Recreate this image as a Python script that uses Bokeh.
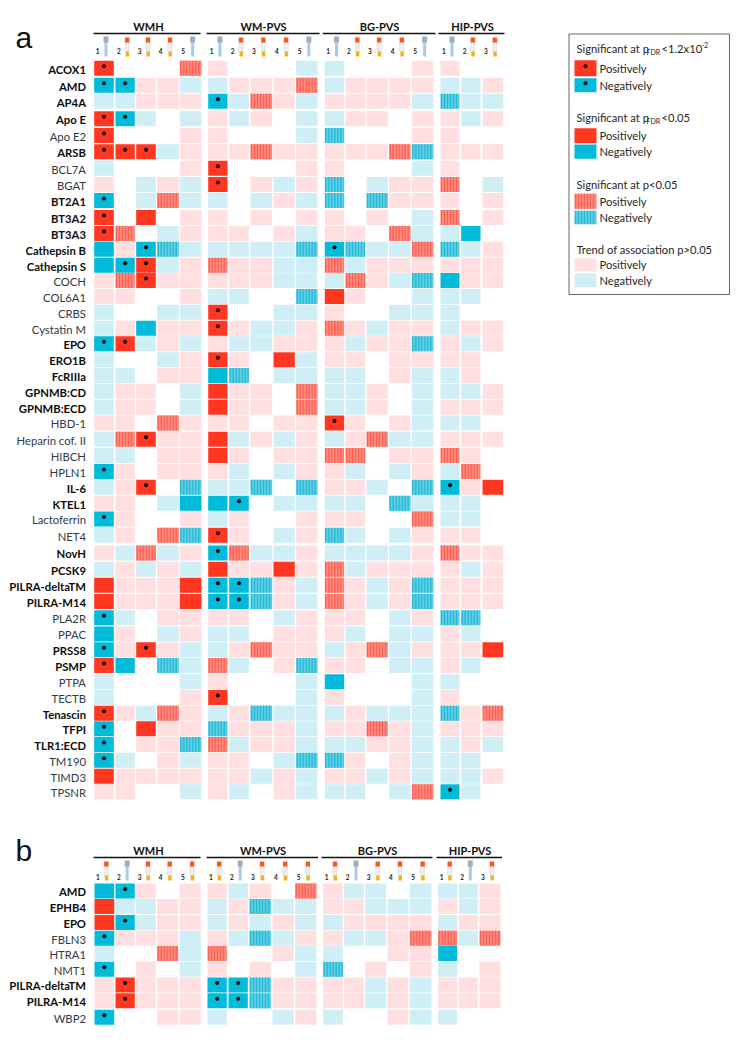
from bokeh.plotting import figure
from bokeh.models import ColumnDataSource
from bokeh.embed import file_html
from bokeh.resources import INLINE
from bokeh.core.properties import value

# ---------- data ----------
GROUPS = ["WMH", "WM-PVS", "BG-PVS", "HIP-PVS"]
GROUP_SIZES = [5, 5, 5, 3]

# R/B = starred positive/negative, r/b = solid, h/k = hatched, p/c = trend, . = none
LABELS_A = ["ACOX1", "AMD", "AP4A", "Apo E", "Apo E2", "ARSB", "BCL7A", "BGAT", "BT2A1", "BT3A2", "BT3A3",
            "Cathepsin B", "Cathepsin S", "COCH", "COL6A1", "CRBS", "Cystatin M", "EPO", "ERO1B", "FcRIIIa",
            "GPNMB:CD", "GPNMB:ECD", "HBD-1", "Heparin cof. II", "HIBCH", "HPLN1", "IL-6", "KTEL1", "Lactoferrin",
            "NET4", "NovH", "PCSK9", "PILRA-deltaTM", "PILRA-M14", "PLA2R", "PPAC", "PRSS8", "PSMP", "PTPA",
            "TECTB", "Tenascin", "TFPI", "TLR1:ECD", "TM190", "TIMD3", "TPSNR"]
BOLD_A = {"ACOX1", "AMD", "AP4A", "Apo E", "ARSB", "BT2A1", "BT3A2", "BT3A3", "Cathepsin B", "Cathepsin S",
          "EPO", "ERO1B", "FcRIIIa", "GPNMB:CD", "GPNMB:ECD", "IL-6", "KTEL1", "NovH", "PCSK9", "PILRA-deltaTM",
          "PILRA-M14", "PRSS8", "PSMP", "Tenascin", "TFPI", "TLR1:ECD"}
CELLS_A = [
    "R...h p...c c...p p..",
    "BBppc cppph cpppp ccp",
    "ccppp Bchpc ppppc kcc",
    "RBc.c pcp.c cpp.p pcp",
    "R...p p...c k...p p..",
    "RRRcp pphpp ppphk ppp",
    "c...p R...p p...c p..",
    "p.cpc R.pcp k.cpp h.c",
    "B.chc c.cpc k.kpp p.p",
    "R.r.p p.p.p p.p.c h.p",
    "Rh.cp pp.pc pp.hc cb.",
    "bpBkc cccck Bkcch kcp",
    "bBRcp hppcc hcppp ppp",
    "phRpp pppcc chpck bpp",
    "pp..p cc..k rp..c cc.",
    "c..cc R..cc p..cc c..",
    "cpbpp Rpccp hpcpp cpp",
    "BRcpc pccpp pcppk pcp",
    "c..cp Rp.rc pp.pp pp.",
    "cc.pp bk.cc cc.pc cp.",
    "cpp.c rpp.h ccp.c ccp",
    "cpp.c rpp.h ccp.c ppp",
    "pp.hp pp.pp Rp.pc cc.",
    "chRpp rcpcp cphcc ppp",
    "cc.pp rp.pp hh.pp hp.",
    "Bp.pp pc.cp pc.cp ch.",
    "cpR.k cck.k ppc.k Bpr",
    "pp.cb bB.cc cc.kc cc.",
    "Bp..p cp..p pp..h cc.",
    "cp.hk Rp.cp kc.cp pp.",
    "pchcp Bhccp ccccp hpp",
    "cpcpc rpprp hcppp pcp",
    "rpppr BBkpc hpcpk ppp",
    "rpppr BBkpc hpcpk ppp",
    "Bc.pp pp.cp pp.cp kk.",
    "bp.cp cc.pp pc.cc pc.",
    "BpRpc cphpp cphcp ppr",
    "Rb.kc hc.pk pp.cc pc.",
    "c...c p...c b...c c..",
    "c...p R...c p...c p..",
    "Rpchp cpkcc cpccc kph",
    "B.rpp kpppc pphpc ppp",
    "B.ppk hcppc ccppc cpc",
    "Bc.pc pp.ck kp.pc cc.",
    "rpppp ppcpc ppcpc ccp",
    "pp..c pc.pc cc.ch Bc.",
]
TUBES_A = ["booob", "booob", "booob", "boo"]

LABELS_B = ["AMD", "EPHB4", "EPO", "FBLN3", "HTRA1", "NMT1", "PILRA-deltaTM", "PILRA-M14", "WBP2"]
BOLD_B = {"AMD", "EPHB4", "EPO", "PILRA-deltaTM", "PILRA-M14"}
CELLS_B = [
    "bBp.p pcp.h pcc.c ccp",
    "rccpp cpkcc ppccc pcp",
    "rBcpp cpcpc cpppp cpp",
    "Bpppc pckcp pccph hch",
    "c..hc h..pc c..pp b..",
    "B.p.c p.p.c k.p.p c.p",
    "pRppp BBkpp ppcpc ppp",
    "pRppp BBkpp ppcpc ppp",
    "B..pp c..cp c..pc c..",
]
TUBES_B = ["obooo", "obooo", "obooo", "obo"]

LEGEND_ROWS = ["Positively", "Negatively"]

# ---------- layout (reference pixels) ----------
LEFT_A = [93.7, 115, 135.7, 156.7, 179.3, 207.7, 228.7, 250, 273, 295.7, 324.3, 345, 366, 388.7, 411.3, 440, 460.7, 482]
RIGHT_A = [113.3, 134.3, 155.3, 178.3, 201, 227, 248.3, 271.7, 294.3, 317, 343.7, 364.7, 387.3, 410, 433, 459, 480, 502.7]
YC_A = [67.7, 84.7, 100.7, 118.3, 135, 151.3, 167.7, 184, 200, 217, 233, 248.7, 264.7, 280, 296, 311.8, 327.7, 343.3,
        359.3, 375, 390.8, 406.7, 422.5, 438.7, 455, 471, 486.8, 502.8, 518.5, 534.8, 552.5, 568.7, 584.7, 601,
        617.3, 633.5, 649.3, 665, 681.3, 697, 712.7, 728.3, 744, 759.8, 775.7, 791.3]
LEFT_B = [94, 115, 135.7, 156.7, 179, 207, 228, 249, 272, 294.7, 322.7, 343.7, 364.7, 387, 409.3, 437.7, 458.3, 479]
RIGHT_B = [113.7, 134.3, 155.3, 177.7, 200.3, 226.3, 247.3, 270.3, 293.3, 316, 342.3, 363.3, 385.7, 408, 431, 456.7, 477.3, 500]
YC_B = [890.5, 906, 922, 937.7, 953, 968.8, 984.5, 1000.3, 1016.7]
CELL_H = 15

COLORS = {"R": "#ff3620", "r": "#ff3620", "B": "#00bbd9", "b": "#00bbd9",
          "h": "#ff7a6e", "k": "#47c6df", "p": "#ffdfdf", "c": "#cfeef5"}
STRIPE = {"h": ("#ff5c4e", "#ff9389"), "k": ("#1fb9d6", "#6dd2e6")}

FONT = "Lato"
W, H = 735, 1034
p = figure(width=W, height=H, x_range=(0, W), y_range=(H, 0),
           x_axis_location=None, y_axis_location=None, toolbar_location=None,
           output_backend="svg", min_border=0, outline_line_color=None)
p.grid.visible = False
p.background_fill_color = "white"


def put_text(x, y, s, size, color="#333333", bold=False, align="left", font=FONT):
    p.text([x], [y], text=[s], text_font=value(font), text_font_size=f"{size}px", text_color=color,
           text_align=align, text_baseline="middle", text_font_style="bold" if bold else "normal")


def draw_cells(left, right, y0, y1, codes):
    src = ColumnDataSource(dict(left=left, right=right, top=y0, bottom=y1, color=[COLORS[c] for c in codes]))
    p.quad(left="left", right="right", top="top", bottom="bottom", fill_color="color", line_color=None, source=src)
    for kind in "hk":
        for phase, col in enumerate(STRIPE[kind]):
            xs0, ys0, ys1 = [], [], []
            for l, r, t, b, c in zip(left, right, y0, y1, codes):
                if c == kind:
                    x = l + 1 + phase * 1.5
                    while x < r - 0.5:
                        xs0.append(x)
                        ys0.append(t)
                        ys1.append(b)
                        x += 3
            if xs0:
                p.segment(x0=xs0, x1=xs0, y0=ys0, y1=ys1, line_color=col, line_width=0.9)
    stars_x = [(l + r) / 2 for l, r, c in zip(left, right, codes) if c in "RB"]
    stars_y = [(t + b) / 2 - 2 for t, b, c in zip(y0, y1, codes) if c in "RB"]
    if stars_x:
        p.scatter(stars_x, stars_y, size=4, color="black", line_color=None)


def draw_panel(labels, bold, cells, left, right, yc):
    lf, rt, t, b, codes = [], [], [], [], []
    for label, row, y in zip(labels, cells, yc):
        row = row.replace(" ", "")
        put_text(85.5, y + 0.8, label, 11.3, "#0d0d0d" if label in bold else "#2f3a45",
                 bold=label in bold, align="right")
        for j, c in enumerate(row):
            if c != ".":
                lf.append(left[j]); rt.append(right[j])
                t.append(y - CELL_H / 2); b.append(y + CELL_H / 2)
                codes.append(c)
    draw_cells(lf, rt, t, b, codes)


def draw_tubes(tubes, left, right, top, num_y):
    j = 0
    for group in tubes:
        for i, kind in enumerate(group):
            xc = (left[j] + right[j]) / 2 + 2
            put_text(left[j] + 1.5, num_y, str(i + 1), 6.5, "#222222", bold=True)
            if kind == "b":
                p.quad(left=[xc - 1.5], right=[xc + 1.5], top=[top + 5], bottom=[top + 20],
                       fill_color="#a6cbec", line_color=None)
                p.quad(left=[xc - 2.5], right=[xc + 2.5], top=[top], bottom=[top + 6],
                       fill_color="#a3acb8", line_color=None)
            else:
                p.quad(left=[xc - 2.2], right=[xc + 2.2], top=[top + 5], bottom=[top + 15],
                       fill_color="#efeded", line_color="#d8d8d8", line_width=0.5)
                p.quad(left=[xc - 1.5], right=[xc + 2], top=[top + 15], bottom=[top + 20],
                       fill_color="#f0b31c", line_color=None)
                p.quad(left=[xc - 2.2], right=[xc + 2.2], top=[top + 1], bottom=[top + 6],
                       fill_color="#f8561c", line_color=None)
            j += 1


def draw_headers(names, starts, ends, centers, line_y, text_y):
    p.segment(x0=starts, x1=ends, y0=[line_y] * len(starts), y1=[line_y] * len(starts),
              line_color="#111111", line_width=1.6)
    for name, cx in zip(names, centers):
        put_text(cx, text_y, name, 11, "#111111", bold=True, align="center")


# panel a
put_text(15, 37, "a", 30, "#111111", font="Liberation Sans")
draw_headers(GROUPS, [93, 206, 322.3, 438], [200, 319, 435, 504], [148, 263, 379, 472], 33, 26)
draw_tubes(TUBES_A, LEFT_A, RIGHT_A, 36, 50.7)
draw_panel(LABELS_A, BOLD_A, CELLS_A, LEFT_A, RIGHT_A, YC_A)

# panel b
put_text(15, 850, "b", 30, "#111111", font="Liberation Sans")
draw_headers(GROUPS, [93, 206, 321, 436], [200, 317.5, 432, 501.5], [148, 262.5, 377, 469.5], 857, 849.7)
draw_tubes(TUBES_B, LEFT_B, RIGHT_B, 860, 876.7)
draw_panel(LABELS_B, BOLD_B, CELLS_B, LEFT_B, RIGHT_B, YC_B)

# legend box
p.quad(left=[568.5], right=[729], top=[33.5], bottom=[294], fill_color="white", line_color="#666666", line_width=1)
TEXT_C = "#262626"
LEG = 11.2
put_text(576, 48, "Significant at p", LEG, TEXT_C)
put_text(646, 51, "FDR", 7, TEXT_C)
put_text(661, 48, "<1.2x10", LEG, TEXT_C)
put_text(701, 44.5, "-2", 7, TEXT_C)
put_text(576, 117.3, "Significant at p", LEG, TEXT_C)
put_text(646, 120.3, "FDR", 7, TEXT_C)
put_text(661, 117.3, "<0.05", LEG, TEXT_C)
put_text(576, 184.3, "Significant at p<0.05", LEG, TEXT_C)
put_text(576, 248.7, "Trend of association p>0.05", LEG, TEXT_C)

LEG_CODES = ["R", "B", "r", "b", "h", "k", "p", "c"]
LEG_Y0 = [59.7, 77.7, 127.7, 144, 193.3, 210.3, 257.7, 273]
LEG_Y1 = [75.7, 91.7, 142.7, 158.3, 208.3, 223.7, 271, 286.7]
draw_cells([574] * 8, [596] * 8, LEG_Y0, LEG_Y1, LEG_CODES)
for i, (a, b) in enumerate(zip(LEG_Y0, LEG_Y1)):
    put_text(599, (a + b) / 2, LEGEND_ROWS[i % 2], LEG, TEXT_C)

open("out.html", "w").write(file_html(p, INLINE))
